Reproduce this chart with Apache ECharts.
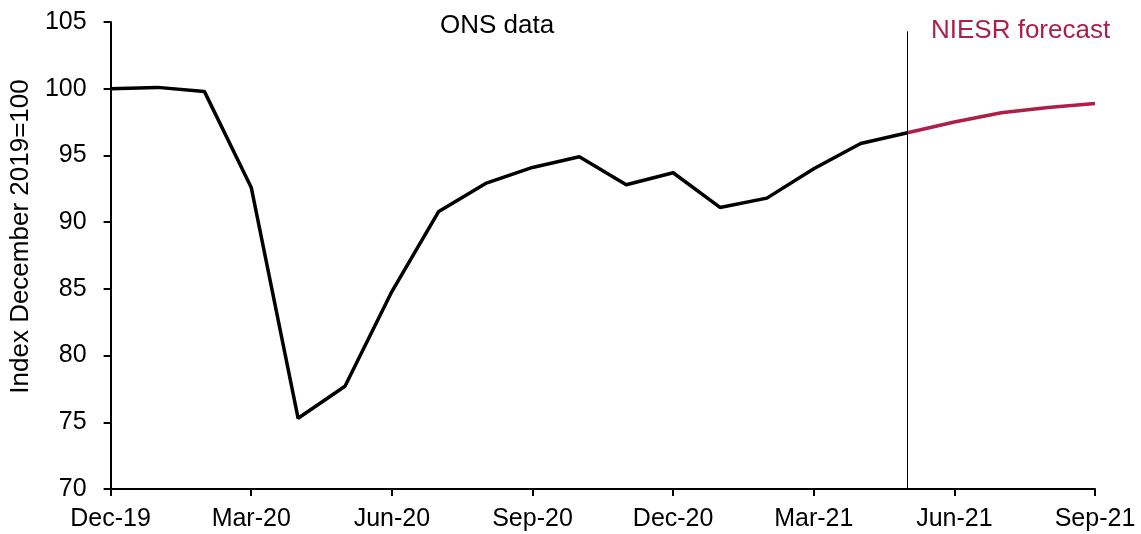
<!DOCTYPE html>
<html><head><meta charset="utf-8">
<script src="https://cdn.jsdelivr.net/npm/echarts@6/dist/echarts.min.js"></script>
<style>html,body{margin:0;padding:0;background:#fff}#c{width:1141px;height:534px}</style>
</head><body><div id="c"></div>
<script>
const months = ['Dec-19','Jan-20','Feb-20','Mar-20','Apr-20','May-20','Jun-20','Jul-20','Aug-20','Sep-20','Oct-20','Nov-20','Dec-20','Jan-21','Feb-21','Mar-21','Apr-21','May-21','Jun-21','Jul-21','Aug-21','Sep-21'];
const onsData = [100.0,100.1,99.8,92.6,75.3,77.7,84.8,90.8,92.9,94.1,94.9,92.8,93.7,91.1,91.8,94.0,95.9,96.7,null,null,null,null];
const niesrForecast = [null,null,null,null,null,null,null,null,null,null,null,null,null,null,null,null,null,96.7,97.5,98.2,98.6,98.9];
const yTicks = [70,75,80,85,90,95,100,105];
const forecastStart = 'May-21';

const font = 'Liberation Sans, Arial, Helvetica, sans-serif';
const red = '#AD1F48';
const chart = echarts.init(document.getElementById('c'), null, {renderer:'canvas'});
chart.setOption({
  animation:false,
  grid:{left:109,right:46,top:22,bottom:45},
  xAxis:{
    type:'category', data:months, boundaryGap:false,
    axisLine:{lineStyle:{color:'#000',width:2}},
    axisTick:{show:true,interval:2,length:7,lineStyle:{color:'#000',width:2}},
    axisLabel:{interval:2,color:'#000',fontSize:25,fontFamily:font,margin:18}
  },
  yAxis:{
    type:'value', min:yTicks[0], max:yTicks[yTicks.length-1], interval:5,
    name:'Index December 2019=100', nameLocation:'middle', nameGap:68,
    nameTextStyle:{color:'#000',fontSize:26,fontFamily:font,padding:[0,0,0,38]},
    axisLine:{show:true,lineStyle:{color:'#000',width:2}},
    axisTick:{show:true,length:7,lineStyle:{color:'#000',width:2}},
    splitLine:{show:false},
    axisLabel:{color:'#000',fontSize:25,fontFamily:font,margin:24}
  },
  series:[
    {name:'ONS data',type:'line',data:onsData,symbol:'none',
     lineStyle:{color:'#000',width:3.5},
     markLine:{symbol:'none',silent:true,label:{show:false},
       lineStyle:{color:'#000',width:1,type:'solid'},
       data:[[{coord:[forecastStart,70]},{coord:[forecastStart,104.3]}]]}},
    {name:'NIESR forecast',type:'line',data:niesrForecast,symbol:'none',
     lineStyle:{color:red,width:3.5}}
  ],
  graphic:[
    {type:'text',left:440,top:13,style:{text:'ONS data',fill:'#000',font:'26px '+font}},
    {type:'text',left:931,top:18,style:{text:'NIESR forecast',fill:red,font:'26px '+font}}
  ]
});
</script></body></html>
